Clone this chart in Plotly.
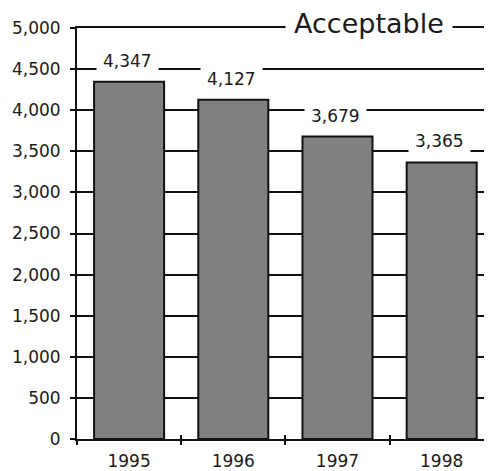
import plotly.graph_objects as go

years = ["1995", "1996", "1997", "1998"]
values = [4347, 4127, 3679, 3365]
value_labels = ["4,347", "4,127", "3,679", "3,365"]
y_ticks = [0, 500, 1000, 1500, 2000, 2500, 3000, 3500, 4000, 4500, 5000]
y_tick_labels = ["0", "500", "1,000", "1,500", "2,000", "2,500", "3,000", "3,500", "4,000", "4,500", "5,000"]
title_text = "Acceptable"

FONT = "DejaVu Sans"
INK = "#1a1a1a"

fig = go.Figure()
fig.add_trace(go.Bar(
    x=years, y=values,
    marker=dict(color="#808080", line=dict(color="#111111", width=2)),
    hoverinfo="skip",
))
# helper trace so the overlay axis (inner half of the crossing ticks) knows the categories
fig.add_trace(go.Scatter(
    x=years, y=values, xaxis="x2", mode="markers",
    marker=dict(opacity=0), hoverinfo="skip", showlegend=False,
))

for i, (v, lab) in enumerate(zip(values, value_labels)):
    fig.add_annotation(
        x=i, y=v, xref="x", yref="y", text=lab, showarrow=False,
        xanchor="center", yanchor="middle", yshift=21, xshift=-2,
        bgcolor="white", borderpad=6,
        font=dict(family=FONT, size=17, color=INK),
    )

fig.add_annotation(
    x=0.7036, y=5000, xref="paper", yref="y", text=title_text, showarrow=False,
    xanchor="center", yanchor="middle", yshift=5, bgcolor="white", borderpad=8,
    font=dict(family=FONT, size=27, color=INK),
)

fig.update_layout(
    width=484, height=463, autosize=False,
    margin=dict(l=69, r=0, t=20, b=30, pad=0),
    paper_bgcolor="white", plot_bgcolor="white",
    bargap=0.328, showlegend=False,
    font=dict(family=FONT, size=17, color=INK),
    xaxis2=dict(
        type="category", overlaying="x", anchor="y", side="bottom",
        range=[-0.5, 3.483], tickson="boundaries", ticks="inside",
        ticklen=4, tickwidth=2, tickcolor="#111111",
        showticklabels=False, showgrid=False, showline=False, zeroline=False,
    ),
)
fig.update_xaxes(
    selector=dict(overlaying=None),
)
fig.layout.xaxis.update(
    type="category", range=[-0.5, 3.483],
    showline=True, mirror=True, linecolor="#111111", linewidth=2,
    tickson="boundaries", ticks="outside", ticklen=4, tickwidth=2, tickcolor="#111111",
    showgrid=False, ticklabelstandoff=6,
    tickfont=dict(family=FONT, size=17, color=INK),
)
fig.update_yaxes(
    range=[0, 5000], tickvals=y_ticks, ticktext=y_tick_labels,
    showline=True, linecolor="#111111", linewidth=2,
    ticks="outside", ticklen=5, tickwidth=2, tickcolor="#111111",
    showgrid=True, gridcolor="#111111", gridwidth=2, zeroline=False,
    ticklabelstandoff=6,
    tickfont=dict(family=FONT, size=17, color=INK),
)

fig.write_html("out.html")
